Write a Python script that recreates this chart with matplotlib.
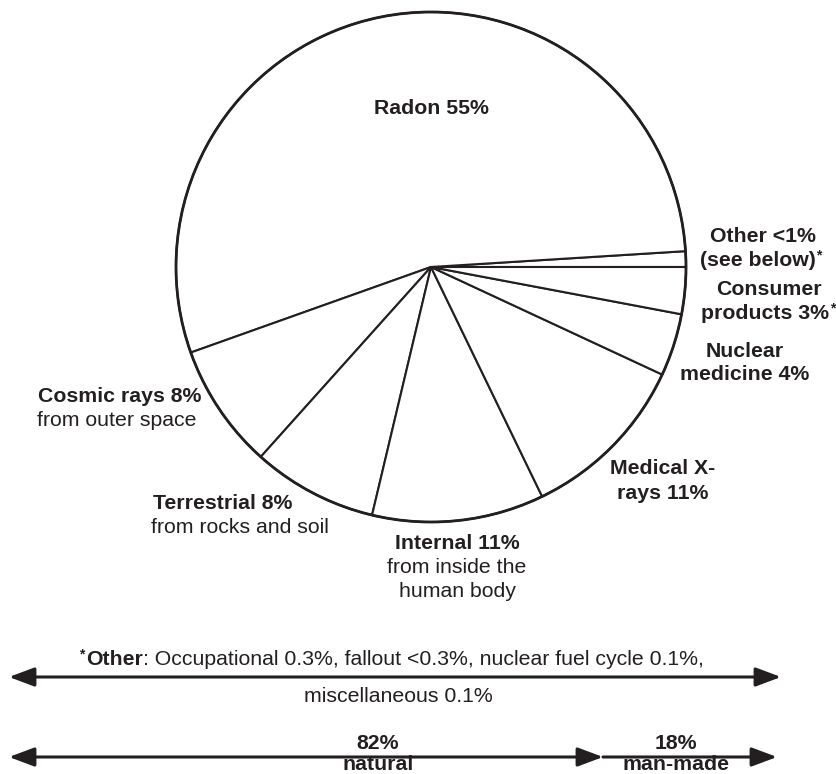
import matplotlib
matplotlib.use("Agg")
import matplotlib.pyplot as plt
from matplotlib.patches import Circle, FancyArrowPatch, ArrowStyle

# ---------------- data ----------------
categories = ["Other", "Radon", "Cosmic rays", "Terrestrial", "Internal",
              "Medical X-rays", "Nuclear medicine", "Consumer products"]
values = [1, 55, 8, 8, 11, 11, 4, 3]
natural_share = 82
manmade_share = 18
other_note = "Occupational 0.3%, fallout <0.3%, nuclear fuel cycle 0.1%,"
other_note2 = "miscellaneous 0.1%"

# ---------------- style ----------------
INK = "#231f20"
FONT = "Liberation Sans"
FS = 15.3
W, H = 837, 774

plt.rcParams["font.family"] = [FONT, "DejaVu Sans"]

fig = plt.figure(figsize=(W / 100, H / 100), dpi=100)
ax = fig.add_axes([0, 0, 1, 1])

def Y(y):
    return H - y

cx, cy, R = 431, 267, 255
ax.pie(values, startangle=0, counterclock=True, center=(cx, Y(cy)), radius=R,
       colors=["white"] * len(values),
       wedgeprops=dict(edgecolor=INK, linewidth=1.5))
ax.add_patch(Circle((cx, Y(cy)), R, fill=False, ec=INK, lw=2.0, zorder=5))
ax.set_xlim(0, W)
ax.set_ylim(0, H)
ax.set_aspect("equal")
ax.axis("off")

def txt(x, y, s, bold=True, ha="left", size=FS):
    # y is the visual centre of the line in pixel coords from the top
    return ax.text(x, Y(y + 7), s, ha=ha, va="baseline", fontsize=size,
                   fontweight="bold" if bold else "normal", color=INK)

def star(t, size=10):
    ax.annotate("*", xy=(1, 1), xycoords=t, xytext=(0.5, 2), textcoords="offset points",
                ha="left", va="top", fontsize=size, fontweight="bold", color=INK)

# slice labels
txt(431, 107, f"Radon {values[1]}%", ha="center")

txt(710, 235, "Other <1%")
t = txt(700, 259, "(see below)")
star(t)

txt(716, 288, "Consumer")
t = txt(701, 312, f"products {values[7]}%")
star(t)

txt(706, 350, "Nuclear")
txt(680, 373, f"medicine {values[6]}%")

txt(610, 467, "Medical X-")
txt(617, 492, f"rays {values[5]}%")

txt(38, 395, f"Cosmic rays {values[2]}%")
txt(37, 419, "from outer space", bold=False)

txt(153, 502, f"Terrestrial {values[3]}%")
txt(151, 526, "from rocks and soil", bold=False)

txt(457, 542, f"Internal {values[4]}%", ha="center")
txt(457, 566, "from inside the", bold=False, ha="center")
txt(457, 590, "human body", bold=False, ha="center")

# footnote
a = ax.text(86, Y(658 + 7), "Other", ha="left", va="baseline", fontsize=FS,
            fontweight="bold", color=INK)
ax.annotate("*", xy=(0, 1), xycoords=a, xytext=(-1, 2), textcoords="offset points",
            ha="right", va="top", fontsize=10, fontweight="bold", color=INK)
ax.annotate(": " + other_note, xy=(1, 0), xycoords=a, ha="left", va="bottom",
            fontsize=FS, color=INK)
txt(398, 695, other_note2, bold=False, ha="center")

# arrows
def arrow(x0, x1, y, style):
    st = ArrowStyle(style, head_length=15.5, head_width=5.8)
    p = FancyArrowPatch((x0, Y(y)), (x1, Y(y)), arrowstyle=st, mutation_scale=1,
                        lw=2.2, color=INK, shrinkA=0, shrinkB=0)
    ax.add_patch(p)

arrow(9, 781, 677, "<|-|>")
arrow(9, 603, 757, "<|-|>")
arrow(603, 777, 757, "-|>")

txt(378, 742, f"{natural_share}%", ha="center")
txt(378, 763, "natural", ha="center")
txt(676, 742, f"{manmade_share}%", ha="center")
txt(676, 763, "man-made", ha="center")

fig.savefig("out.png", dpi=100, facecolor="white")
